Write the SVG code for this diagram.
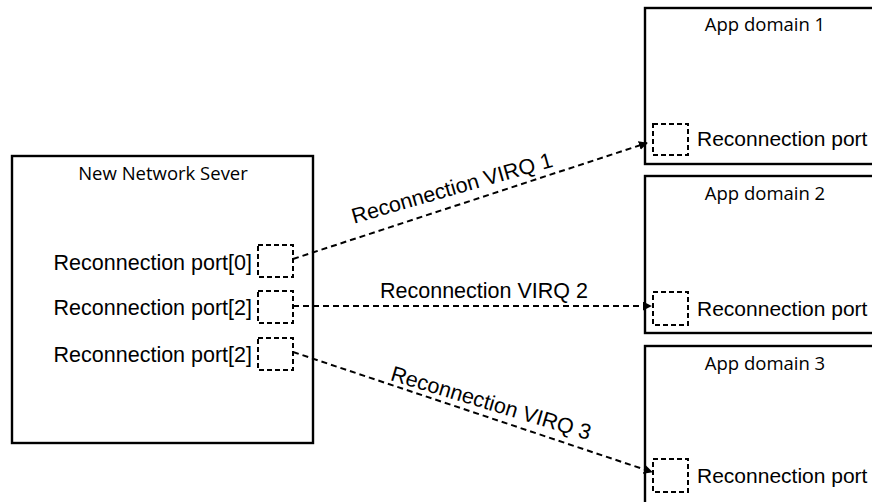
<svg xmlns="http://www.w3.org/2000/svg" width="872" height="502" viewBox="0 0 872 502">
<style>
.box{fill:#fff;stroke:#000;stroke-width:2.4}
.port{fill:none;stroke:#000;stroke-width:2;stroke-dasharray:5 3}
.conn{fill:none;stroke:#000;stroke-width:2;stroke-dasharray:6 4}
.t{font-family:"Liberation Sans",Arial,sans-serif;font-size:21.5px;fill:#000}
.ta{font-family:"Liberation Sans",Arial,sans-serif;font-size:21px;fill:#000}
.h{font-family:"Open Sans","Noto Sans",sans-serif;font-size:18.5px;fill:#000}
</style>
<defs>
<marker id="arr" viewBox="0 0 10 10" refX="9" refY="5" markerWidth="4.5" markerHeight="4.5" orient="auto" markerUnits="strokeWidth">
<path d="M0,0 L10,5 L0,10 z" fill="#000"/>
</marker>
</defs>
<rect width="872" height="502" fill="#fff"/>
<g id="server">
<rect class="box" x="12" y="156" width="301" height="287"/>
<text class="h" x="163" y="180" text-anchor="middle">New Network Sever</text>
<rect class="port" x="258" y="245" width="35" height="32"/>
<rect class="port" x="258" y="291" width="35" height="32"/>
<rect class="port" x="258" y="338" width="35" height="32"/>
<text class="t" x="252" y="270" text-anchor="end">Reconnection port[0]</text>
<text class="t" x="252" y="315" text-anchor="end">Reconnection port[2]</text>
<text class="t" x="252" y="362" text-anchor="end">Reconnection port[2]</text>
</g>
<g id="app1">
<rect class="box" x="645" y="8" width="240" height="156"/>
<text class="h" x="765" y="31" text-anchor="middle">App domain 1</text>
<rect class="port" x="653" y="124" width="35" height="31"/>
<text class="ta" x="697" y="146">Reconnection port</text>
</g>
<g id="app2">
<rect class="box" x="645" y="176" width="240" height="157"/>
<text class="h" x="765" y="200" text-anchor="middle">App domain 2</text>
<rect class="port" x="653" y="292" width="35" height="33"/>
<text class="ta" x="697" y="316">Reconnection port</text>
</g>
<g id="app3">
<rect class="box" x="645" y="346" width="240" height="170"/>
<text class="h" x="765" y="370" text-anchor="middle">App domain 3</text>
<rect class="port" x="653" y="459" width="35" height="33"/>
<text class="ta" x="697" y="483">Reconnection port</text>
</g>
<g id="connectors">
<path class="conn" d="M293,259 L647,143" marker-end="url(#arr)"/>
<path class="conn" d="M293,306 L651,306" marker-end="url(#arr)"/>
<path class="conn" d="M293,352 L652,472" marker-end="url(#arr)"/>
<text class="t" transform="translate(454,195) rotate(-16)" text-anchor="middle">Reconnection VIRQ 1</text>
<text class="t" x="484" y="298" text-anchor="middle">Reconnection VIRQ 2</text>
<text class="t" transform="translate(489,410) rotate(16.8)" text-anchor="middle">Reconnection VIRQ 3</text>
</g>
</svg>
